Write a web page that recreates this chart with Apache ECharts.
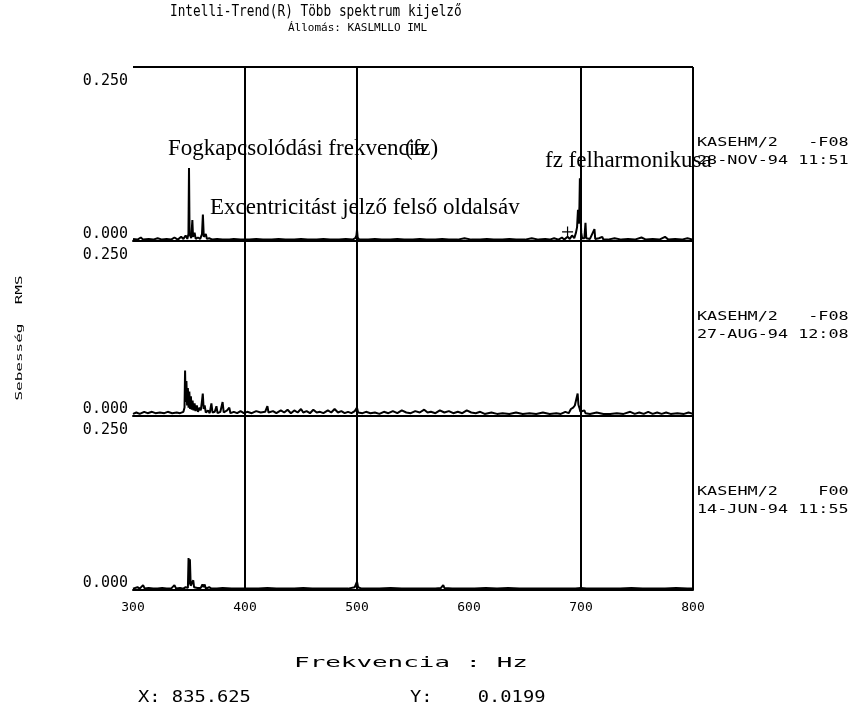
<!DOCTYPE html>
<html>
<head>
<meta charset="utf-8">
<script src="https://cdn.jsdelivr.net/npm/echarts@6/dist/echarts.min.js"></script>
<style>
html,body{margin:0;padding:0;background:#fff;}
#c{width:856px;height:711px;}
</style>
</head>
<body>
<div id="c"></div>
<script>
// ---- data ----
const X_TICKS = [300, 400, 500, 600, 700, 800];
const Y_TICK_LABELS = ['0.000', '0.250'];
const GRID_LINES = [400, 500, 700, 800];

const TITLE = 'Intelli-Trend(R) Több spektrum kijelző';
const SUBTITLE = 'Állomás: KASLMLLO IML';
const Y_NAME = 'Sebesség  RMS';
const X_NAME = 'Frekvencia : Hz';
const CURSOR_X = 'X: 835.625';
const CURSOR_Y = 'Y:    0.0199';
const PANEL_LABELS = [
  ['KASEHM/2   -F08', '28-NOV-94 11:51'],
  ['KASEHM/2   -F08', '27-AUG-94 12:08'],
  ['KASEHM/2    F00', '14-JUN-94 11:55']
];

// Panel 1 (28-NOV-94): [frequency Hz, amplitude]
const spectrum1 = [[300,.003],[304,.002],[307,.005],[309,.002],[314,.003],[318,.002],[322,.004],[326,.002],[330,.003],[334,.002],[337,.005],[340,.002],[343,.006],[345,.003],[347,.008],[348.5,.003],[349.5,.01],[350,.105],[350.5,.01],[352,.004],[353,.03],[353.6,.006],[355,.012],[356,.003],[358,.005],[360,.003],[361.6,.01],[362.4,.038],[363.2,.006],[365,.01],[366,.003],[368,.004],[371,.002],[375,.003],[380,.002],[386,.002],[390,.003],[396,.002],[404,.002],[410,.003],[416,.002],[424,.002],[430,.003],[436,.002],[444,.002],[450,.003],[456,.002],[464,.002],[470,.003],[476,.002],[484,.002],[490,.003],[496,.002],[498.5,.004],[499.5,.008],[500,.016],[500.6,.005],[502,.002],[510,.002],[516,.003],[522,.002],[530,.002],[536,.003],[542,.002],[550,.002],[556,.003],[562,.002],[570,.002],[576,.003],[582,.002],[590,.002],[596,.004],[602,.002],[610,.002],[616,.003],[622,.002],[630,.002],[636,.003],[642,.002],[650,.002],[656,.004],[662,.002],[668,.003],[672,.002],[676,.004],[680,.002],[683,.005],[685,.002],[688,.006],[690,.003],[692,.008],[694,.004],[695.5,.012],[696.5,.02],[697.3,.045],[698,.025],[698.6,.05],[699,.09],[699.5,.04],[700.2,.012],[701,.004],[703,.004],[704,.026],[704.7,.004],[708,.003],[712,.017],[712.7,.003],[716,.004],[719,.006],[720,.002],[724,.002],[730,.004],[736,.002],[742,.003],[748,.002],[754,.005],[758,.002],[764,.003],[770,.002],[775,.006],[778,.002],[784,.003],[790,.002],[795,.004],[800,.002]];

// Panel 2 (27-AUG-94)
const spectrum2 = [[300,.003],[303,.005],[306,.003],[310,.006],[313,.004],[317,.006],[320,.004],[324,.005],[328,.004],[331,.006],[335,.004],[339,.005],[342,.004],[345,.006],[346,.012],[346.5,.065],[347,.02],[347.7,.05],[348.3,.015],[349,.04],[349.6,.012],[350.3,.035],[351,.01],[351.7,.028],[352.4,.009],[353.2,.022],[354,.008],[355,.018],[355.8,.007],[357,.015],[358,.006],[359.5,.012],[360.5,.008],[361.5,.02],[362.3,.032],[363.1,.01],[364,.015],[365,.005],[367,.008],[368.5,.004],[370,.018],[371,.005],[373,.006],[374.5,.014],[375.5,.004],[378,.006],[380,.02],[381,.005],[384,.008],[386,.012],[387,.004],[390,.006],[393,.004],[396,.007],[399,.004],[402,.006],[406,.004],[410,.007],[414,.005],[418,.006],[420,.014],[421,.005],[425,.007],[428,.004],[432,.008],[435,.005],[438,.009],[441,.004],[444,.008],[447,.005],[450,.010],[452,.005],[455,.007],[458,.004],[461,.009],[464,.005],[467,.006],[470,.004],[474,.008],[477,.005],[480,.010],[483,.005],[486,.007],[489,.004],[492,.006],[495,.004],[498,.007],[500,.012],[501,.005],[505,.004],[508,.006],[512,.004],[516,.005],[520,.003],[524,.006],[528,.004],[532,.007],[536,.004],[540,.008],[544,.005],[548,.004],[552,.007],[556,.005],[560,.009],[563,.005],[566,.006],[570,.004],[574,.008],[578,.005],[582,.007],[586,.004],[590,.006],[594,.004],[598,.008],[602,.005],[606,.004],[610,.006],[614,.003],[620,.005],[625,.003],[630,.004],[636,.003],[642,.005],[648,.003],[654,.004],[660,.003],[666,.005],[672,.003],[678,.004],[682,.003],[686,.006],[689,.004],[691,.01],[693,.012],[694.5,.015],[696,.014],[697,.032],[697.7,.016],[698.5,.012],[699.5,.006],[701,.004],[703,.008],[704,.004],[708,.003],[714,.005],[720,.003],[726,.003],[732,.004],[738,.003],[744,.006],[748,.003],[752,.005],[756,.003],[760,.006],[764,.003],[768,.005],[772,.003],[776,.005],[780,.003],[786,.004],[792,.003],[796,.005],[800,.003]];

// Panel 3 (14-JUN-94)
const spectrum3 = [[300,.002],[304,.004],[306,.002],[309,.007],[310.5,.002],[314,.003],[318,.002],[322,.002],[326,.003],[330,.002],[334,.002],[337,.007],[338.5,.002],[342,.003],[345,.002],[347,.004],[349,.003],[349.6,.046],[350.2,.008],[350.8,.044],[351.5,.006],[353,.008],[353.8,.014],[354.5,.004],[356,.006],[357.5,.003],[359,.005],[360.5,.003],[362,.008],[363,.004],[364,.008],[365,.002],[368,.004],[370,.002],[375,.002],[380,.003],[388,.002],[396,.002],[404,.002],[412,.002],[420,.003],[428,.002],[436,.002],[444,.002],[452,.003],[460,.002],[468,.002],[476,.002],[484,.002],[492,.002],[498,.004],[500,.012],[501,.004],[504,.002],[512,.002],[520,.002],[530,.003],[540,.002],[550,.002],[560,.002],[570,.002],[575,.003],[577,.007],[578,.003],[585,.002],[595,.002],[605,.002],[615,.003],[625,.002],[635,.003],[645,.002],[655,.002],[665,.002],[675,.002],[685,.002],[695,.002],[700,.003],[705,.002],[715,.002],[725,.002],[735,.002],[745,.003],[755,.002],[765,.002],[775,.002],[785,.003],[795,.002],[800,.002]];

const CURSOR_MARK = [688, 0.013];

// ---- chart ----
const SPECTRA = [spectrum1, spectrum2, spectrum3];
const PIX = 'DejaVu Sans Mono';
const SERIF = 'Liberation Serif';

const gridTops = [67, 241, 416];
const gridHeights = [174, 175, 174];

const grids = gridTops.map((t, i) => ({ left: 133, width: 560, top: t, height: gridHeights[i] }));

const xAxes = [0, 1, 2].map(i => ({
  type: 'value', gridIndex: i, min: X_TICKS[0], max: X_TICKS[X_TICKS.length - 1], interval: 100,
  axisLine: { show: true, onZero: false, lineStyle: { color: '#000', width: 2 } },
  axisTick: { show: false },
  splitLine: { show: false },
  axisLabel: {
    show: i === 2, color: '#000', fontFamily: PIX, fontSize: 13, margin: 11,
    formatter: v => { const k = X_TICKS.indexOf(v); return k >= 0 ? String(X_TICKS[k]) : ''; }
  }
}));

const yAxes = [0, 1, 2].map(i => ({
  type: 'value', gridIndex: i, min: 0, max: 0.25, interval: 0.25,
  axisLine: { show: false }, axisTick: { show: false }, splitLine: { show: false },
  axisLabel: {
    color: '#000', fontFamily: PIX, fontSize: 15, margin: 5,
    verticalAlignMinLabel: 'bottom', verticalAlignMaxLabel: 'top',
    formatter: v => v === 0 ? '{lo|' + Y_TICK_LABELS[0] + '}' : '{hi|' + Y_TICK_LABELS[1] + '}',
    rich: {
      lo: { fontFamily: PIX, fontSize: 15, color: '#000', lineHeight: 14 },
      hi: { fontFamily: PIX, fontSize: 15, color: '#000', lineHeight: 28 }
    }
  }
}));

const series = [0, 1, 2].map(i => {
  const lines = GRID_LINES.map(v => ({ xAxis: v }));
  if (i === 0) lines.push({ yAxis: 0.25 });
  const s = {
    type: 'line', xAxisIndex: i, yAxisIndex: i,
    data: SPECTRA[i],
    showSymbol: false, symbol: 'none',
    lineStyle: { color: '#000', width: 2 },
    silent: true, z: 3,
    markLine: {
      silent: true, symbol: ['none', 'none'], label: { show: false },
      lineStyle: { color: '#000', width: 2, type: 'solid' },
      data: lines
    }
  };
  if (i === 0) {
    s.markPoint = {
      symbol: 'path://M5,0L5,10M0,5L10,5', symbolSize: 11,
      itemStyle: { color: 'none', borderColor: '#000', borderWidth: 1.2 },
      label: { show: false },
      data: [{ coord: CURSOR_MARK }]
    };
  }
  return s;
});

const graphics = [];
graphics.push({ type: 'text', x: 170, y: 12, scaleX: 0.85, style: { text: TITLE, fontFamily: PIX, fontSize: 15, fill: '#000', align: 'left', verticalAlign: 'middle' } });
graphics.push({ type: 'text', x: 288, y: 28, style: { text: SUBTITLE, fontFamily: PIX, fontSize: 11, fill: '#000', align: 'left', verticalAlign: 'middle' } });
graphics.push({ type: 'text', x: 20, y: 338, rotation: Math.PI / 2, scaleX: 2, style: { text: Y_NAME, fontFamily: PIX, fontSize: 8, fill: '#000', align: 'center', verticalAlign: 'middle' } });
graphics.push({ type: 'text', x: 411, y: 663, scaleX: 1.85, style: { text: X_NAME, fontFamily: PIX, fontSize: 14, fill: '#000', align: 'center', verticalAlign: 'middle' } });
graphics.push({ type: 'text', x: 138, y: 698, scaleX: 1.25, style: { text: CURSOR_X, fontFamily: PIX, fontSize: 15, fill: '#000', align: 'left', verticalAlign: 'middle' } });
graphics.push({ type: 'text', x: 410, y: 698, scaleX: 1.25, style: { text: CURSOR_Y, fontFamily: PIX, fontSize: 15, fill: '#000', align: 'left', verticalAlign: 'middle' } });

PANEL_LABELS.forEach((pair, i) => {
  graphics.push({ type: 'text', x: 697, y: gridTops[i] + 76, scaleX: 1.4, style: { text: pair[0], fontFamily: PIX, fontSize: 12, fill: '#000', align: 'left', verticalAlign: 'middle' } });
  graphics.push({ type: 'text', x: 697, y: gridTops[i] + 94, scaleX: 1.4, style: { text: pair[1], fontFamily: PIX, fontSize: 12, fill: '#000', align: 'left', verticalAlign: 'middle' } });
});

// annotations (serif)
const ANN = [
  { t: 'Fogkapcsolódási frekvencia', x: 168, y: 149 },
  { t: '(fz)', x: 405, y: 149 },
  { t: 'Excentricitást jelző felső oldalsáv', x: 210, y: 208 },
  { t: 'fz felharmonikusa', x: 545, y: 161 }
];
ANN.forEach(a => graphics.push({ type: 'text', x: a.x, y: a.y, z: 10, style: { text: a.t, fontFamily: SERIF, fontSize: 23, fill: '#000', align: 'left', verticalAlign: 'middle' } }));

const chart = echarts.init(document.getElementById('c'), null, { renderer: 'canvas' });
chart.setOption({
  animation: false,
  backgroundColor: '#fff',
  grid: grids,
  xAxis: xAxes,
  yAxis: yAxes,
  series: series,
  graphic: graphics
});
</script>
</body>
</html>
